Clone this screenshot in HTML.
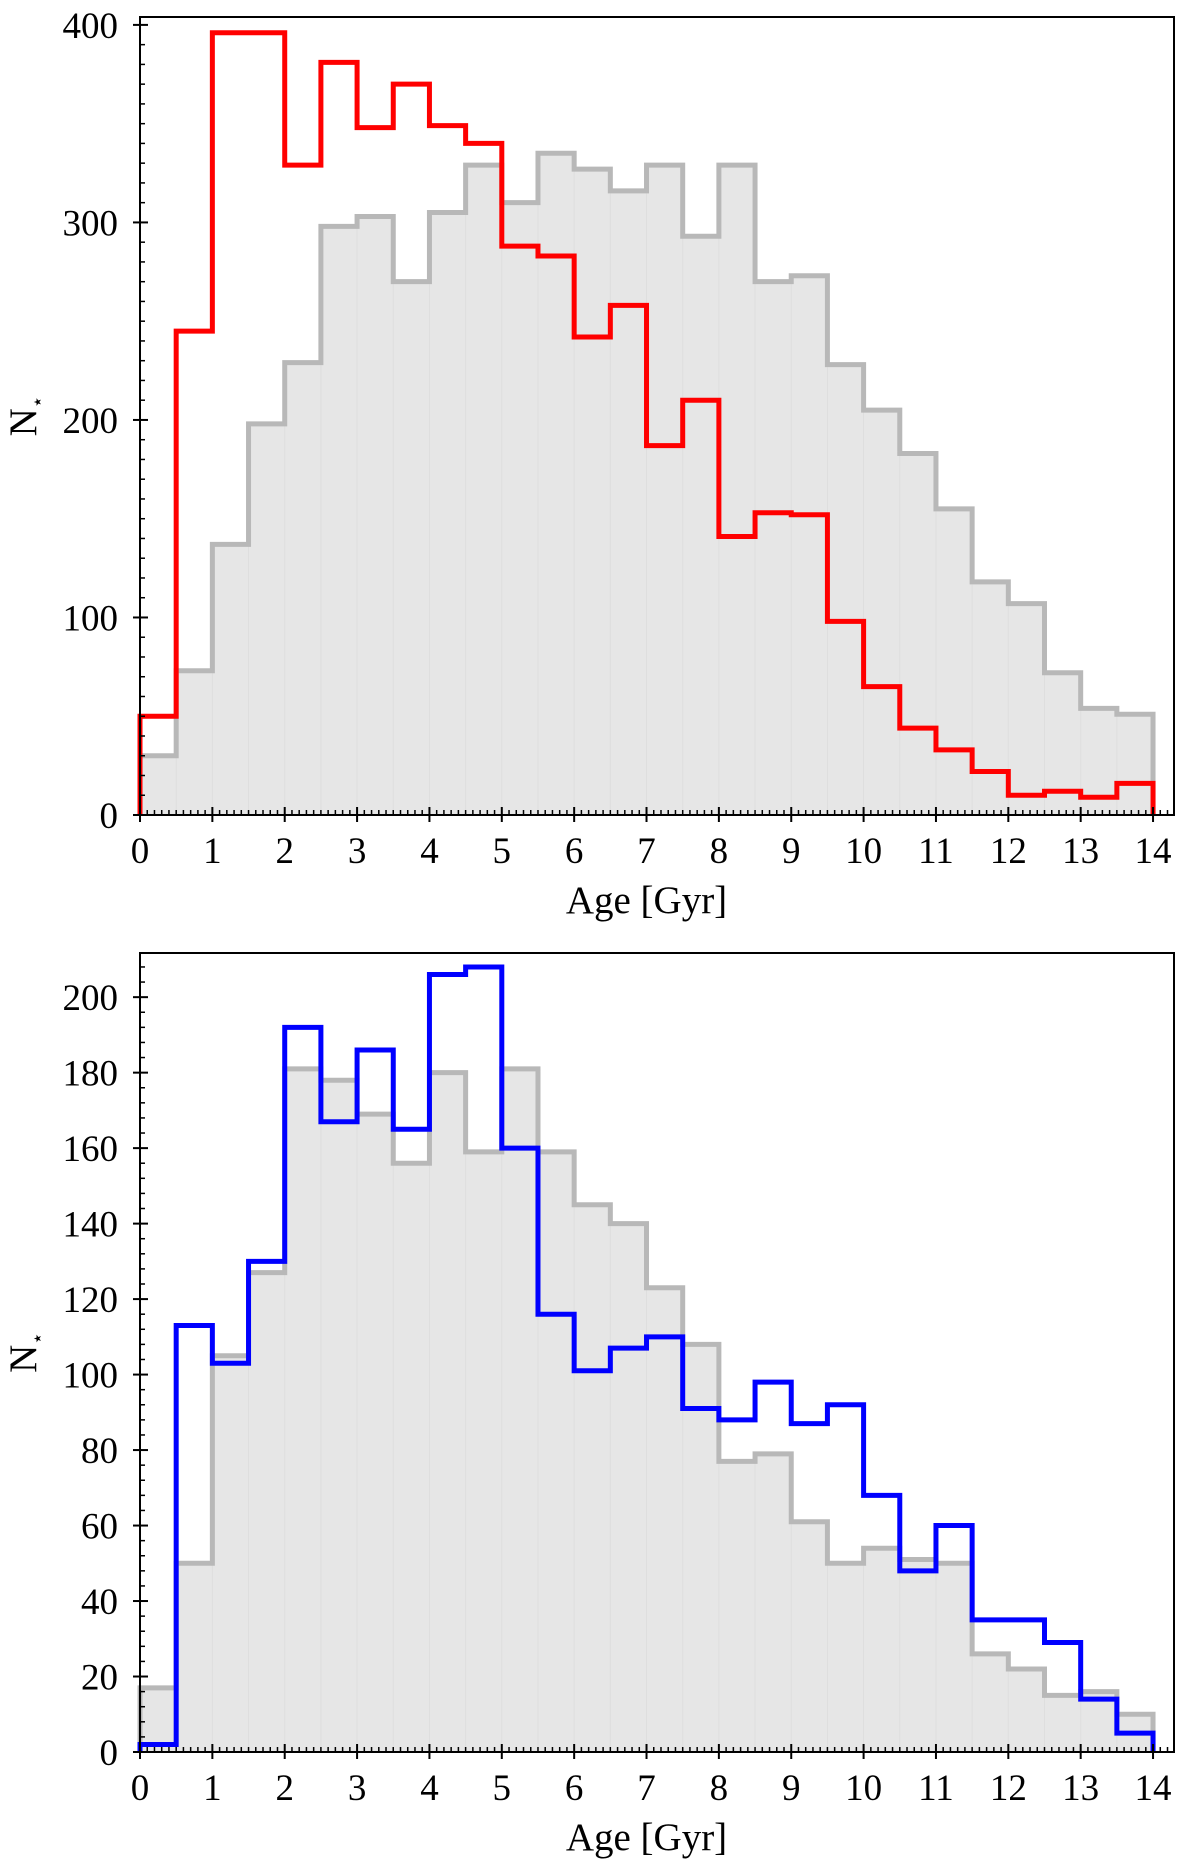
<!DOCTYPE html>
<html><head><meta charset="utf-8"><style>
html,body{margin:0;padding:0;background:#fff;}
svg{display:block;font-family:"Liberation Serif","DejaVu Serif",serif;}
</style></head><body>
<svg id="chart" width="1200" height="1864" viewBox="0 0 1200 1864" xmlns="http://www.w3.org/2000/svg"></svg>
<script>
const binEdgesStart = 0, binWidth = 0.5;
const topGray = [30,73,137,198,229,298,303,270,305,329,310,335,327,316,329,293,329,270,273,228,205,183,155,118,107,72,54,51];
const topRed = [50,245,396,396,329,381,348,370,349,340,288,283,242,258,187,210,141,153,152,98,65,44,33,22,10,12,9,16];
const botGray = [17,50,105,127,181,178,169,156,180,159,181,159,145,140,123,108,77,79,61,50,54,51,50,26,22,15,16,10];
const botBlue = [2,113,103,130,192,167,186,165,206,208,160,116,101,107,110,91,88,98,87,92,68,48,60,35,35,29,14,5];
const xTicks = [0,1,2,3,4,5,6,7,8,9,10,11,12,13,14];
const topYTicks = [0,100,200,300,400];
const botYTicks = [0,20,40,60,80,100,120,140,160,180,200];

const NS = "http://www.w3.org/2000/svg";
const svg = document.getElementById('chart');
function mk(tag, attrs, parent){const e=document.createElementNS(NS,tag);for(const k in attrs)e.setAttribute(k,attrs[k]);(parent||svg).appendChild(e);return e;}

function panel(cfg){
  const g = mk('g',{});
  
  
  const L=140,R=1174,T=cfg.top,B=cfg.bottom;
  const xs = v => L + v*72.36;
  const ys = v => B - v*(B-T)/cfg.ymax;
  let d = `M${xs(0)},${ys(0)}`;
  cfg.gray.forEach((v,i)=>{const x0=xs(binEdgesStart+i*binWidth),x1=xs(binEdgesStart+(i+1)*binWidth);d+=` L${x0},${ys(v)} L${x1},${ys(v)}`;});
  d += ` L${xs(binEdgesStart+cfg.gray.length*binWidth)},${ys(0)} Z`;
  const fill = mk('path',{d:d,fill:'#e6e6e6',stroke:'none'},g);
  
  
  cfg.gray.forEach((v,i)=>{ if(i>0){const x=xs(binEdgesStart+i*binWidth);mk('line',{x1:x,x2:x,y1:ys(0),y2:ys(Math.min(v,cfg.gray[i-1])),stroke:'#dedede','stroke-width':1},g);} });
  let dg = `M${xs(0)},${ys(0)}`;
  cfg.gray.forEach((v,i)=>{dg+=` L${xs(i*binWidth)},${ys(v)} L${xs((i+1)*binWidth)},${ys(v)}`;});
  dg += ` L${xs(cfg.gray.length*binWidth)},${ys(0)}`;
  const gl = mk('path',{d:dg,fill:'none',stroke:'#b8b8b8','stroke-width':5},g);
  
  
  let dc = `M${xs(0)},${ys(0)}`;
  cfg.color.forEach((v,i)=>{dc+=` L${xs(i*binWidth)},${ys(v)} L${xs((i+1)*binWidth)},${ys(v)}`;});
  dc += ` L${xs(cfg.color.length*binWidth)},${ys(0)}`;
  const cl = mk('path',{d:dc,fill:'none',stroke:cfg.stroke,'stroke-width':5,'stroke-linejoin':'miter'},g);
  
  
  const fr = mk('rect',{x:L,y:T,width:R-L,height:B-T,fill:'none',stroke:'#000','stroke-width':2},g);
  
  
  for(let k=0;k<=143;k++){const v=k/10;const x=xs(v);if(x>R)break;const major=k%10===0;
    mk('line',{x1:x,x2:x,y1:B-(major?8:5),y2:B+(major?7:0),stroke:'#000','stroke-width':major?2:1.5},g);}
  xTicks.forEach(v=>{const t=mk('text',{x:xs(v),y:B+48,'font-size':37,'text-anchor':'middle',fill:'#000'},g);t.textContent=v;
    });
  for(let v=0;v<=cfg.ymax;v+=cfg.minor){const y=ys(v);const major=Math.abs(v/cfg.major-Math.round(v/cfg.major))<1e-6;
    mk('line',{x1:L-(major?7:0),x2:L+(major?8:5),y1:y,y2:y,stroke:'#000','stroke-width':major?2:1.5},g);}
  cfg.yticks.forEach(v=>{const t=mk('text',{x:L-22,y:ys(v)+13,'font-size':37,'text-anchor':'end',fill:'#000'},g);t.textContent=v;
    });
  const xl = mk('text',{x:(L+1153)/2,y:B+98,'font-size':39,'text-anchor':'middle',fill:'#000'},g);
  xl.textContent='Age [Gyr]';
  
  const yl = mk('text',{x:0,y:0,'font-size':39,'text-anchor':'middle',fill:'#000',transform:`translate(36,${(T+B)/2}) rotate(-90)`},g);
  yl.innerHTML='N<tspan font-size="20" dy="8">⋆</tspan>';
  
}
panel({name:'top-panel',top:17,bottom:815,ymax:404,gray:topGray,color:topRed,stroke:'#ff0000',seriesName:'red-histogram',yticks:topYTicks,major:100,minor:10});
panel({name:'bottom-panel',top:953,bottom:1752,ymax:211.7,gray:botGray,color:botBlue,stroke:'#0000ff',seriesName:'blue-histogram',yticks:botYTicks,major:20,minor:4});
</script>
</body></html>
